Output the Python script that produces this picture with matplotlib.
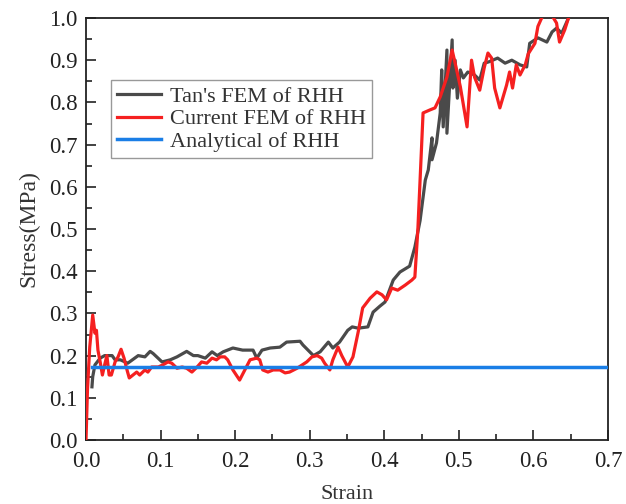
import matplotlib
matplotlib.use("Agg")
import matplotlib.pyplot as plt
from matplotlib.ticker import MultipleLocator, FormatStrFormatter

# Tan's FEM of RHH
tan_strain = [0.008, 0.009, 0.012, 0.019, 0.025, 0.035, 0.039, 0.046, 0.056, 0.070, 0.079,
              0.086, 0.090, 0.102, 0.113, 0.122, 0.135, 0.144, 0.150, 0.160, 0.169, 0.176,
              0.184, 0.197, 0.210, 0.224, 0.229, 0.236, 0.247, 0.260, 0.269, 0.287, 0.291,
              0.305, 0.314, 0.325, 0.331, 0.340, 0.351, 0.357, 0.365, 0.378, 0.385, 0.394,
              0.401, 0.412, 0.421, 0.434, 0.441, 0.448, 0.455, 0.459, 0.464, 0.464, 0.470,
              0.475, 0.477, 0.479, 0.484, 0.484, 0.491, 0.492, 0.495, 0.498, 0.502, 0.506,
              0.512, 0.521, 0.528, 0.534, 0.540, 0.552, 0.562, 0.571, 0.582, 0.591, 0.595,
              0.606, 0.618, 0.625, 0.631, 0.638, 0.647]
tan_stress = [0.126, 0.150, 0.178, 0.194, 0.200, 0.200, 0.190, 0.190, 0.182, 0.200, 0.197,
              0.210, 0.205, 0.185, 0.190, 0.197, 0.210, 0.200, 0.200, 0.194, 0.209, 0.200,
              0.209, 0.218, 0.213, 0.213, 0.194, 0.213, 0.218, 0.220, 0.232, 0.234, 0.225,
              0.200, 0.209, 0.232, 0.218, 0.232, 0.260, 0.268, 0.265, 0.268, 0.303, 0.317,
              0.327, 0.379, 0.398, 0.412, 0.457, 0.520, 0.616, 0.640, 0.716, 0.664, 0.704,
              0.775, 0.877, 0.742, 0.924, 0.727, 0.948, 0.834, 0.900, 0.810, 0.877, 0.858,
              0.872, 0.865, 0.853, 0.893, 0.896, 0.905, 0.893, 0.900, 0.889, 0.884, 0.940,
              0.953, 0.943, 0.967, 0.976, 0.964, 1.000]

# Current FEM of RHH
cur_strain = [0.000, 0.002, 0.005, 0.009, 0.012, 0.014, 0.016, 0.019, 0.022, 0.025, 0.028,
              0.031, 0.034, 0.039, 0.043, 0.047, 0.051, 0.055, 0.058, 0.063, 0.068, 0.072,
              0.079, 0.083, 0.088, 0.097, 0.103, 0.110, 0.115, 0.122, 0.129, 0.135, 0.142,
              0.149, 0.155, 0.162, 0.169, 0.175, 0.180, 0.186, 0.190, 0.197, 0.206, 0.213,
              0.220, 0.229, 0.233, 0.237, 0.244, 0.251, 0.260, 0.267, 0.273, 0.283, 0.290,
              0.296, 0.303, 0.310, 0.316, 0.320, 0.327, 0.331, 0.338, 0.343, 0.351, 0.358,
              0.365, 0.371, 0.381, 0.390, 0.397, 0.403, 0.410, 0.418, 0.428, 0.437, 0.441,
              0.445, 0.448, 0.452, 0.461, 0.468, 0.475, 0.484, 0.491, 0.495, 0.502, 0.511,
              0.517, 0.521, 0.528, 0.534, 0.539, 0.544, 0.548, 0.555, 0.564, 0.568, 0.572,
              0.577, 0.582, 0.589, 0.593, 0.602, 0.606, 0.611, 0.620, 0.631, 0.635, 0.642,
              0.647]
cur_stress = [0.000, 0.120, 0.220, 0.296, 0.253, 0.260, 0.213, 0.185, 0.154, 0.178, 0.200,
              0.154, 0.154, 0.185, 0.197, 0.215, 0.194, 0.166, 0.147, 0.154, 0.161, 0.154,
              0.166, 0.161, 0.173, 0.173, 0.178, 0.185, 0.182, 0.170, 0.173, 0.170, 0.161,
              0.173, 0.185, 0.182, 0.194, 0.190, 0.197, 0.197, 0.190, 0.166, 0.142, 0.166,
              0.190, 0.194, 0.190, 0.166, 0.161, 0.166, 0.166, 0.159, 0.161, 0.170, 0.178,
              0.185, 0.197, 0.200, 0.194, 0.182, 0.166, 0.190, 0.220, 0.200, 0.173, 0.197,
              0.256, 0.313, 0.336, 0.351, 0.344, 0.332, 0.360, 0.355, 0.367, 0.379, 0.386,
              0.498, 0.616, 0.775, 0.782, 0.787, 0.813, 0.860, 0.924, 0.893, 0.837, 0.742,
              0.900, 0.860, 0.829, 0.882, 0.917, 0.905, 0.834, 0.787, 0.841, 0.872, 0.834,
              0.889, 0.865, 0.889, 0.915, 0.940, 0.980, 1.000, 1.020, 0.988, 0.943, 0.972,
              1.000]

# Analytical of RHH
ana_strain = [0.008, 0.700]
ana_stress = [0.172, 0.172]

x_ticks = [0.0, 0.1, 0.2, 0.3, 0.4, 0.5, 0.6, 0.7]
y_ticks = [0.0, 0.1, 0.2, 0.3, 0.4, 0.5, 0.6, 0.7, 0.8, 0.9, 1.0]

plt.rcParams['font.family'] = ['Liberation Serif', 'DejaVu Serif']

fig = plt.figure(figsize=(6.26, 5.04), dpi=100)
ax = fig.add_axes([86/626, 64/504, 522/626, 422/504])

ax.plot(tan_strain, tan_stress, color='#4a4a4a', lw=2.3, label="Tan's FEM of RHH", zorder=3)
ax.plot(cur_strain, cur_stress, color='#f52020', lw=2.3, label="Current FEM of RHH", zorder=4)
ax.plot(ana_strain, ana_stress, color='#1a7ee6', lw=2.5, label="Analytical of RHH", zorder=5)

ax.set_xlim(0.0, 0.7)
ax.set_ylim(0.0, 1.0)
ax.set_xticks(x_ticks)
ax.set_yticks(y_ticks)
ax.xaxis.set_minor_locator(MultipleLocator(0.05))
ax.yaxis.set_minor_locator(MultipleLocator(0.05))
ax.xaxis.set_major_formatter(FormatStrFormatter('%.1f'))
ax.yaxis.set_major_formatter(FormatStrFormatter('%.1f'))
ax.tick_params(which='both', direction='in', width=1.2, labelsize=16.5, colors='#222222')
ax.tick_params(which='major', length=7)
ax.tick_params(which='minor', length=4)
ax.tick_params(axis='x', which='major', pad=8)
ax.tick_params(axis='y', which='major', pad=6)
for s in ax.spines.values():
    s.set_linewidth(1.3)
    s.set_color('#222222')

ax.set_xlabel('Strain', fontsize=16, color='#333333', labelpad=9)
ax.set_ylabel('Stress(MPa)', fontsize=17, color='#333333', labelpad=7)

leg = ax.legend(loc='upper left', bbox_to_anchor=(0.048, 0.852), fontsize=16,
                frameon=True, fancybox=False, edgecolor='#999999', framealpha=1,
                handlelength=2.0, handletextpad=0.4, borderpad=0.25, labelspacing=0.1,
                borderaxespad=0)
leg.get_frame().set_linewidth(1.0)
for t in leg.get_texts():
    t.set_color('#333333')

fig.savefig('out.png', dpi=100)
